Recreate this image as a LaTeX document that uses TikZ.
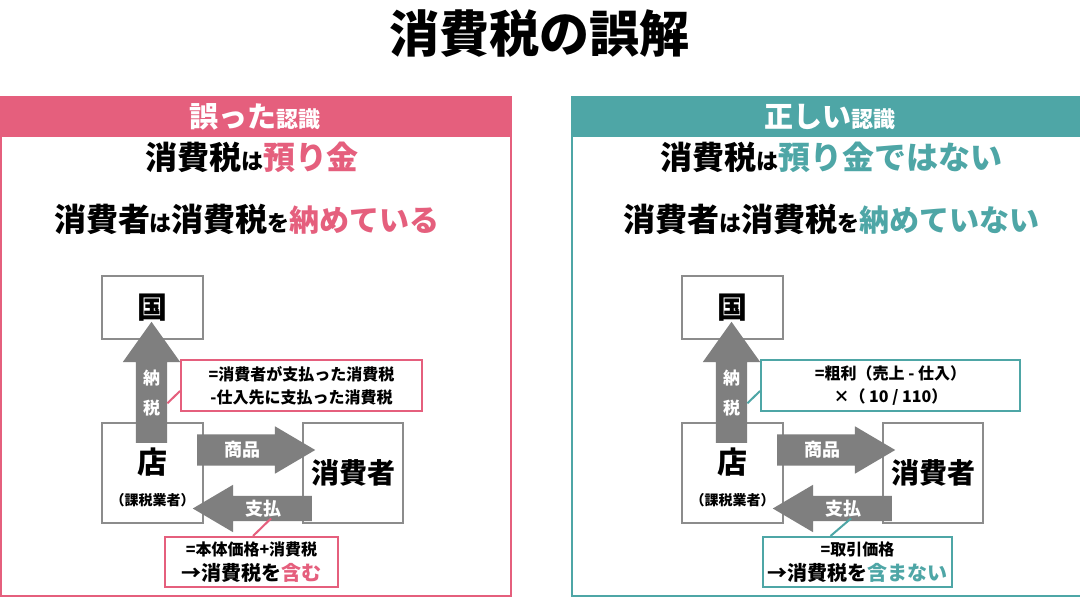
\documentclass[tikz,border=0pt]{standalone}
\usepackage{fontspec}
\setmainfont{Noto Sans CJK JP}
\usepackage{tikz}
\usetikzlibrary{shapes.arrows}

\definecolor{errpink}{RGB}{229,95,125}
\definecolor{okteal}{RGB}{78,166,166}
\definecolor{arrgray}{RGB}{127,127,127}
\definecolor{boxgray}{RGB}{140,140,140}
\newcommand{\fsz}[1]{\fontsize{#1}{#1}\selectfont}

\begin{document}
\begin{tikzpicture}[x=1pt,y=-1pt]
    \tikzset{party/.style = {shape=rectangle,draw=boxgray,line width=2pt,fill=white,inner sep=0pt}}
    \tikzset{label/.style = {inner sep=0pt,font=\bfseries}}
    \tikzset{flow/.style = {shape=single arrow,fill=arrgray,inner sep=0pt,text=white,font=\fsz{18}\bfseries,
        text height=22.25pt,text depth=8.75pt,
        single arrow tip angle=61,minimum height=118pt,minimum width=47pt,single arrow head extend=8pt}}
    \tikzset{upflow/.style = {flow,shape border rotate=90,minimum height=121pt,minimum width=57pt,
        single arrow head extend=13pt,single arrow tip angle=71,text width=31pt,align=center,
        text height=,text depth=,font=\fontsize{17}{30}\selectfont\bfseries}}
    \tikzset{backflow/.style = {flow,shape border rotate=180,minimum height=119pt,
        text height=19.25pt,text depth=5.75pt,single arrow head extend=11pt}}
    \tikzset{note/.style = {shape=rectangle,line width=2pt,fill=white,align=center,inner sep=0pt,font=\bfseries}}
    \tikzset{link/.style = {line width=2pt}}
    \useasboundingbox (0,0) rectangle (1080,607);
    \fill[white] (0,0) rectangle (1080,607);
    % title
    \node[label,font=\fsz{50}\bfseries] (title) at (539,34) {消費税の誤解};
    % panels
    \draw[errpink,line width=2.5pt] (1,97) rectangle (511,596);
    \fill[errpink] (1,97) rectangle (511,137);
    \draw[okteal,line width=2.5pt] (572,97) rectangle (1095,596);
    \fill[okteal] (572,97) rectangle (1095,137);
    \node[label,text=white] (lhead) at (255,117) {{\fsz{29}誤った}{\fsz{22}認識}};
    \node[label,text=white] (rhead) at (830,117) {{\fsz{29}正しい}{\fsz{22}認識}};
    \node[label] (lline1) at (252,157) {{\fsz{32}消費税}{\fsz{22}は}{\fsz{32}\textcolor{errpink}{預り金}}};
    \node[label] (lline2) at (247,219) {{\fsz{32}消費者}{\fsz{22}は}{\fsz{32}消費税}{\fsz{22}を}{\fsz{30}\textcolor{errpink}{納めている}}};
    \node[label] (rline1) at (831,157) {{\fsz{32}消費税}{\fsz{22}は}{\fsz{32}\textcolor{okteal}{預り金ではない}}};
    \node[label] (rline2) at (831,219) {{\fsz{32}消費者}{\fsz{22}は}{\fsz{32}消費税}{\fsz{22}を}{\fsz{30}\textcolor{okteal}{納めていない}}};

    % vertices (left)
    \node[party,minimum width=101pt,minimum height=63pt,font=\fsz{30}\bfseries] (lkuni) at (152.5,307.5) {国};
    \node[party,minimum width=101pt,minimum height=100pt] (lmise) at (152.5,473) {};
    \node[label,font=\fsz{30}\bfseries] (lmisename) at (152.5,462) {店};
    \node[label,font=\fsz{14}\bfseries] (lmisesub) at (152.5,500) {（課税業者）};
    \node[party,minimum width=100pt,minimum height=100pt,font=\fsz{28}\bfseries] (lkyaku) at (353,473) {消費者};
    % vertices (right)
    \node[party,minimum width=101pt,minimum height=63pt,font=\fsz{30}\bfseries] (rkuni) at (732.5,307.5) {国};
    \node[party,minimum width=101pt,minimum height=100pt] (rmise) at (732.5,473) {};
    \node[label,font=\fsz{30}\bfseries] (rmisename) at (732.5,462) {店};
    \node[label,font=\fsz{14}\bfseries] (rmisesub) at (732.5,500) {（課税業者）};
    \node[party,minimum width=100pt,minimum height=100pt,font=\fsz{28}\bfseries] (rkyaku) at (933,473) {消費者};

    % edges (left)
    \node[upflow,anchor=tail] (lnozei) at (151.5,443) {納\\税};
    \node[flow,anchor=tail] (lshohin) at (197,450) {商品};
    \node[backflow,anchor=tail] (lshiharai) at (312,508.5) {支払};
    % edges (right)
    \node[upflow,anchor=tail] (rnozei) at (731.5,443) {納\\税};
    \node[flow,anchor=tail] (rshohin) at (777,450) {商品};
    \node[backflow,anchor=tail] (rshiharai) at (892,508.5) {支払};

    % notes
    \node[note,draw=errpink,minimum width=241pt,minimum height=51pt,font=\fontsize{16}{23}\selectfont\bfseries] (lnote1) at (301.5,385.5)
        {=消費者が支払った消費税\\-仕入先に支払った消費税};
    \node[note,draw=errpink,minimum width=173pt,minimum height=50pt] (lnote2) at (251.5,562)
        {{\fsz{16}=本体価格+消費税}\\[5pt]{\fsz{20}→消費税を\textcolor{errpink}{含む}}};
    \node[note,draw=okteal,minimum width=259pt,minimum height=51pt,font=\fontsize{16}{23}\selectfont\bfseries] (rnote1) at (890.5,385.5)
        {=粗利（売上 - 仕入）\\×（ 10 / 110）};
    \node[note,draw=okteal,minimum width=189pt,minimum height=50pt] (rnote2) at (857.5,562)
        {{\fsz{16}=取引価格}\\[5pt]{\fsz{20}→消費税を\textcolor{okteal}{含まない}}};
    \draw[link,errpink] ([yshift=-5.5pt]lnote1.west) -- ([yshift=-10pt]lnozei.east);
    \draw[link,errpink] ([xshift=8pt,yshift=3pt]lshiharai.south) -- ([xshift=1.5pt]lnote2.north);
    \draw[link,okteal] ([yshift=-5.5pt]rnote1.west) -- ([yshift=-10pt]rnozei.east);
    \draw[link,okteal] ([xshift=8pt,yshift=3pt]rshiharai.south) -- ([xshift=-27pt]rnote2.north);
\end{tikzpicture}
\end{document}
